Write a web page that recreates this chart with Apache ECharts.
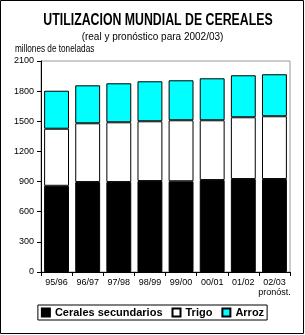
<!DOCTYPE html>
<html><head><meta charset="utf-8">
<script src="https://cdn.jsdelivr.net/npm/echarts@6/dist/echarts.min.js"></script>
<style>html,body{margin:0;padding:0;background:#fff}#c{width:305px;height:335px}</style>
</head><body><div id="c"></div>
<script>
const categories = ['95/96','96/97','97/98','98/99','99/00','00/01','01/02','02/03\npronóst.'];
const ceralesSecundarios = [858, 895, 895, 905, 903, 915, 925, 925];
const trigo = [568, 585, 595, 595, 607, 595, 615, 625];
const arroz = [378, 378, 388, 398, 398, 418, 418, 418];
const yTicks = [0, 300, 600, 900, 1200, 1500, 1800, 2100];

const chart = echarts.init(document.getElementById('c'));
const font = 'Liberation Sans, Arial, sans-serif';
const barStyle = (c) => ({ color: c, borderColor: '#000', borderWidth: 1 });
chart.setOption({
  animation: false,
  textStyle: { fontFamily: font },
  title: [
    { text: '(real y pronóstico para 2002/03)', left: 'center', top: 27,
      textStyle: { fontFamily: font, fontWeight: 'normal', fontSize: 10, color: '#000' } }
  ],
  graphic: [
    { type: 'rect', shape: { x: 0.5, y: 0.5, width: 303, height: 333 },
      style: { fill: 'none', stroke: '#000', lineWidth: 1 }, silent: true },
    { type: 'text', x: 158, y: 21, scaleX: 0.77, silent: true,
      style: { text: 'UTILIZACION MUNDIAL DE CEREALES', fill: '#000', textAlign: 'center', textVerticalAlign: 'middle',
        font: 'bold 16px Liberation Sans, Arial, sans-serif' } },
    { type: 'text', x: 15, y: 49, scaleX: 0.82, silent: true,
      style: { text: 'millones de toneladas', fill: '#000', textAlign: 'left', textVerticalAlign: 'middle',
        font: '10px Liberation Sans, Arial, sans-serif' } }
  ],
  legend: {
    bottom: 15, left: 'center', itemWidth: 8, itemHeight: 8, itemGap: 9, icon: 'rect',
    borderColor: '#000', borderWidth: 1, padding: [2, 3, 2, 3],
    textStyle: { fontFamily: font, fontWeight: 'bold', fontSize: 11, color: '#000' },
    data: ['Cerales secundarios', 'Trigo', 'Arroz']
  },
  grid: { left: 41, right: 15, top: 61, bottom: 63, show: true, borderColor: '#999', borderWidth: 1, backgroundColor: 'transparent' },
  xAxis: {
    type: 'category', data: categories,
    axisLine: { lineStyle: { color: '#000', width: 1 } },
    axisTick: { show: true, lineStyle: { color: '#000' }, length: 4 },
    axisLabel: { color: '#000', fontSize: 9, margin: 6, interval: 0, lineHeight: 10 }
  },
  yAxis: {
    type: 'value', min: 0, max: 2100, interval: 300,
    axisLine: { show: true, lineStyle: { color: '#000', width: 1 } },
    axisTick: { show: true, length: 4, lineStyle: { color: '#000' } },
    splitLine: { show: false },
    axisLabel: { color: '#000', fontSize: 9, margin: 7,
      formatter: (v) => yTicks.includes(v) ? String(v) : '' }
  },
  series: [
    { name: 'Cerales secundarios', type: 'bar', stack: 's', data: ceralesSecundarios, barCategoryGap: '20%', itemStyle: barStyle('#000') },
    { name: 'Trigo', type: 'bar', stack: 's', data: trigo, itemStyle: barStyle('#fff') },
    { name: 'Arroz', type: 'bar', stack: 's', data: arroz, itemStyle: barStyle('#00ffff') }
  ]
});
</script></body></html>
